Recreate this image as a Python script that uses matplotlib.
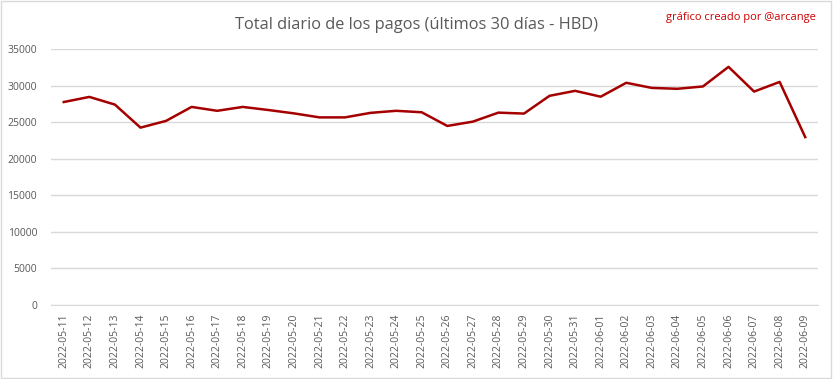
import matplotlib.pyplot as plt
from matplotlib.patches import Rectangle

# daily totals (HBD)
dates = ["2022-05-11", "2022-05-12", "2022-05-13", "2022-05-14", "2022-05-15",
         "2022-05-16", "2022-05-17", "2022-05-18", "2022-05-19", "2022-05-20",
         "2022-05-21", "2022-05-22", "2022-05-23", "2022-05-24", "2022-05-25",
         "2022-05-26", "2022-05-27", "2022-05-28", "2022-05-29", "2022-05-30",
         "2022-05-31", "2022-06-01", "2022-06-02", "2022-06-03", "2022-06-04",
         "2022-06-05", "2022-06-06", "2022-06-07", "2022-06-08", "2022-06-09"]
totals = [27750, 28450, 27400, 24250, 25170, 27080, 26550, 27080, 26660, 26200,
          25650, 25650, 26270, 26550, 26350, 24480, 25070, 26300, 26170, 28600,
          29280, 28480, 30380, 29680, 29560, 29880, 32560, 29180, 30500, 22950]
y_ticks = [0, 5000, 10000, 15000, 20000, 25000, 30000, 35000]

plt.rcParams['font.family'] = ['Open Sans', 'DejaVu Sans']

fig = plt.figure(figsize=(8.33, 3.79), dpi=100)
ax = fig.add_axes([0.0612, 0.1953, 0.9208, 0.6754])

x = list(range(len(dates)))
ax.plot(x, totals, color="#a50000", linewidth=1.8)

ax.set_xlim(-0.5, len(dates) - 0.5)
ax.set_ylim(0, 35000)
ax.set_yticks(y_ticks)
ax.set_yticklabels([str(v) for v in y_ticks])
ax.set_xticks(x)
ax.set_xticklabels(dates, rotation=90)
ax.tick_params(axis="both", length=0, labelsize=7.5, colors="#595959")
ax.tick_params(axis="y", pad=10)
ax.tick_params(axis="x", pad=6)

ax.grid(axis="y", color="#d9d9d9", linewidth=1)
ax.set_axisbelow(True)
for s in ["top", "right", "left"]:
    ax.spines[s].set_visible(False)
ax.spines["bottom"].set_color("#d9d9d9")

fig.text(0.5, 0.935, "Total diario de los pagos (últimos 30 días - HBD)",
         ha="center", va="center", fontsize=11.8, color="#595959")
fig.text(0.98, 0.955, "gráfico creado por @arcange", ha="right", va="center",
         fontsize=8, color="#cc0000")

fig.add_artist(Rectangle((0.001, 0.002), 0.997, 0.995, transform=fig.transFigure,
                         fill=False, edgecolor="#d9d9d9", linewidth=1))

fig.savefig("out.png", dpi=100)
